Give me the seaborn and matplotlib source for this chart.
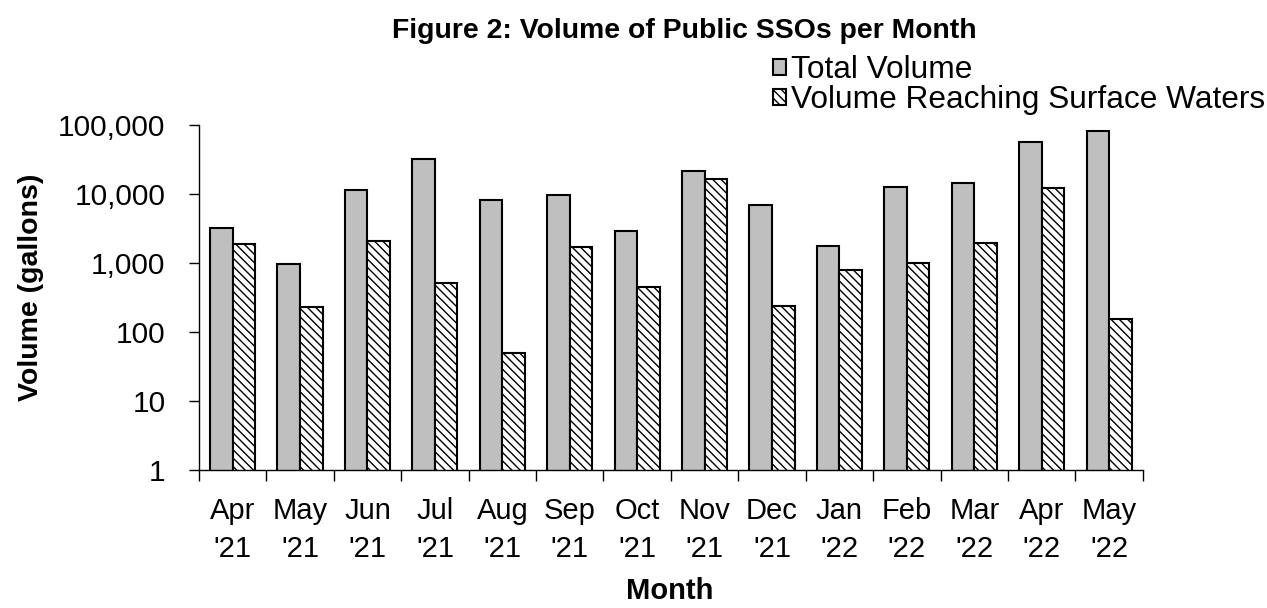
import numpy as np
import pandas as pd
import seaborn as sb
import matplotlib.pyplot as plt
from matplotlib.ticker import FuncFormatter, FixedLocator

months = ["Apr\n'21", "May\n'21", "Jun\n'21", "Jul\n'21", "Aug\n'21", "Sep\n'21", "Oct\n'21",
          "Nov\n'21", "Dec\n'21", "Jan\n'22", "Feb\n'22", "Mar\n'22", "Apr\n'22", "May\n'22"]
total_volume = [3240, 975, 11350, 31900, 8230, 9700, 2900, 21600, 6960, 1780, 12800, 14300, 58000, 81900]
surface_volume = [1900, 230, 2120, 513, 50, 1720, 454, 16500, 240, 808, 998, 1960, 12400, 153]
series = ["Total Volume", "Volume Reaching Surface Waters"]
y_ticks = [1, 10, 100, 1000, 10000, 100000]

df = pd.DataFrame({
    "month": months * 2,
    "volume": total_volume + surface_volume,
    "series": [series[0]] * len(months) + [series[1]] * len(months),
})

sb.set_style("white")
plt.rcParams['font.family'] = ['Liberation Sans', 'DejaVu Sans']
plt.rcParams['text.color'] = 'black'
plt.rcParams['axes.labelcolor'] = 'black'
plt.rcParams['xtick.color'] = 'black'
plt.rcParams['ytick.color'] = 'black'
plt.rcParams['hatch.linewidth'] = 1.0

fig = plt.figure(figsize=(12.67, 6.08), dpi=100)
ax = fig.add_axes([0.157, 0.227, 0.745, 0.567])
ax.set_yscale('log')

sb.barplot(data=df, x="month", y="volume", hue="series", ax=ax,
           palette=["#bfbfbf", "white"], width=0.67, gap=0,
           edgecolor="black", linewidth=1.5, saturation=1, errorbar=None,
           legend=False)

# hatch the second series
n = len(months)
bars = ax.patches[:2 * n]
for patch in bars[n:]:
    patch.set_hatch('\\\\\\\\')

ax.set_ylim(1, 100000)
ax.set_xlim(-0.5, n - 0.5)
ax.yaxis.set_major_locator(FixedLocator(y_ticks))
ax.yaxis.set_major_formatter(FuncFormatter(lambda v, p: f"{int(v):,}"))
ax.yaxis.set_minor_locator(FixedLocator([]))
ax.tick_params(axis='y', which='major', left=True, length=7, width=1, labelsize=21.5, pad=17)
ax.tick_params(axis='x', which='major', bottom=False, labelsize=21, pad=16)
ax.xaxis.set_minor_locator(FixedLocator(np.arange(-0.5, n, 1.0)))
ax.tick_params(axis='x', which='minor', bottom=True, length=8, width=1)
for lbl in ax.get_xticklabels():
    lbl.set_linespacing(1.45)

for side in ['top', 'right']:
    ax.spines[side].set_visible(False)
for side in ['left', 'bottom']:
    ax.spines[side].set_color('black')
    ax.spines[side].set_linewidth(1)

ax.set_xlabel("Month", fontsize=21, fontweight='bold')
ax.xaxis.set_label_coords(0.499, -0.31)
ax.set_ylabel("Volume (gallons)", fontsize=20.5, fontweight='bold')
ax.yaxis.set_label_coords(-0.164, 0.53)
fig.suptitle("Figure 2: Volume of Public SSOs per Month", fontsize=20.4, fontweight='bold',
             x=0.54, y=0.97)

ax.legend(handles=[bars[0], bars[n]], labels=series,
          loc='upper left', bbox_to_anchor=(0.5975, 0.935), bbox_transform=fig.transFigure,
          frameon=False, fontsize=22.8, handlelength=0.42, handleheight=0.42,
          handletextpad=0.15, labelspacing=0.0, borderpad=0)

plt.savefig("out.png", dpi=100)
plt.close()
